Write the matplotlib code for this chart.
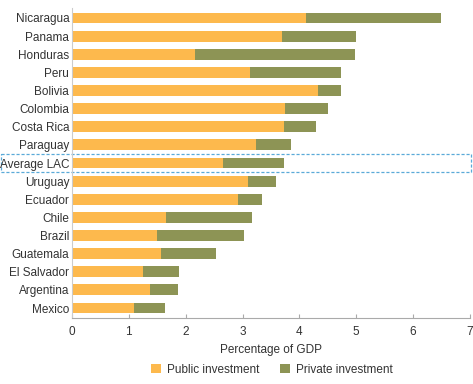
import matplotlib.pyplot as plt
import matplotlib.transforms as transforms
from matplotlib.patches import Rectangle
import numpy as np

plt.rcParams['font.family'] = ['Liberation Sans', 'DejaVu Sans']

countries = ['Nicaragua', 'Panama', 'Honduras', 'Peru', 'Bolivia', 'Colombia',
             'Costa Rica', 'Paraguay', 'Average LAC', 'Uruguay', 'Ecuador',
             'Chile', 'Brazil', 'Guatemala', 'El Salvador', 'Argentina', 'Mexico']
public = [4.11, 3.69, 2.17, 3.13, 4.33, 3.74, 3.72, 3.23, 2.65, 3.09, 2.92,
          1.65, 1.49, 1.57, 1.24, 1.37, 1.09]
total = [6.49, 5.00, 4.97, 4.73, 4.73, 4.50, 4.29, 3.86, 3.73, 3.59, 3.35,
         3.16, 3.03, 2.53, 1.89, 1.87, 1.64]
private = [t - p for t, p in zip(total, public)]

c_pub = '#FDB94D'
c_priv = '#8D9455'
txt = '#333333'
fs = 8.5

fig = plt.figure(figsize=(4.73, 3.84), dpi=100)
ax = fig.add_axes([72/473, 1 - 318/384, 398/473, 310/384])

y = np.arange(len(countries))
ax.barh(y, public, height=0.6, color=c_pub, label='Public investment')
ax.barh(y, private, left=public, height=0.6, color=c_priv, label='Private investment')

ax.set_ylim(len(countries) - 0.45, -0.55)
ax.set_xlim(0, 7)
ax.set_yticks(y)
ax.set_yticklabels(countries, fontsize=fs, color=txt)
ax.set_xticks(range(8))
ax.tick_params(axis='x', labelsize=fs, colors=txt, direction='in', length=3,
               color='#aaaaaa', pad=6)
ax.tick_params(axis='y', length=0, pad=2)
for s in ['top', 'right']:
    ax.spines[s].set_visible(False)
ax.spines['left'].set_color('#cccccc')
ax.spines['bottom'].set_color('#aaaaaa')
ax.set_xlabel('Percentage of GDP', fontsize=fs, color=txt, labelpad=4)

# dashed highlight box around the average
i = countries.index('Average LAC')
tr = transforms.blended_transform_factory(fig.transFigure, ax.transData)
ax.add_patch(Rectangle((0.002, i - 0.48), 0.994, 0.96, transform=tr, fill=False,
                       edgecolor='#5AAAD8', linestyle=(0, (2.5, 1.5)), linewidth=0.9,
                       clip_on=False))

fig.legend(loc='center', bbox_to_anchor=(272/473, 1 - 370/384), ncol=2, frameon=False,
           fontsize=fs, handlelength=0.8, handleheight=0.8, handletextpad=0.5,
           columnspacing=1.8, labelcolor=txt)

fig.savefig('out.png', dpi=100)
